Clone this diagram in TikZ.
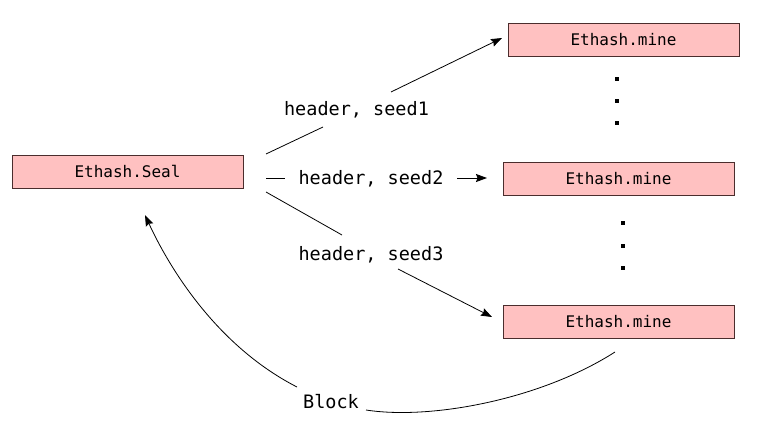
\documentclass[tikz,border=0pt]{standalone}
\usepackage{fontspec}
\setmonofont{DejaVu Sans Mono}
\usetikzlibrary{arrows.meta}
\definecolor{boxfill}{RGB}{255,193,193}
\definecolor{boxline}{RGB}{75,45,45}
\begin{document}
\begin{tikzpicture}[x=1pt,y=-1pt,
  box/.style={draw=boxline, fill=boxfill, line width=0.9pt, minimum width=231pt,
    minimum height=33pt, inner sep=0pt, font=\ttfamily\fontsize{16}{16}\selectfont},
  lbl/.style={inner sep=0pt, anchor=base, font=\ttfamily\fontsize{18.5}{18.5}\selectfont},
  conn/.style={line width=0.8pt},
  arr/.style={conn, -{Stealth[length=11pt,width=8pt,inset=1.5pt]}},
  dotmark/.style={fill=black}]
\useasboundingbox (0,0) rectangle (766,444);

% boxes
\node[box] (seal)  at (127.5,171.5) {Ethash.Seal};
\node[box] (mine1) at (623.5,39.5)  {Ethash.mine};
\node[box] (mine2) at (618.5,178.5) {Ethash.mine};
\node[box] (mine3) at (618.5,322)   {Ethash.mine};

% labels
\node[lbl] (l1) at (356.5,115.7) {header, seed1};
\node[lbl] (l2) at (371,184.5)   {header, seed2};
\node[lbl] (l3) at (371,260.7)   {header, seed3};
\node[lbl] (blk) at (331,408)    {Block};

% connector end points
\coordinate (s1a) at (266,154); \coordinate (s1b) at (323,127);
\coordinate (s1c) at (391,92);  \coordinate (s1t) at (502,38);
\coordinate (s2a) at (266,178); \coordinate (s2b) at (285,178);
\coordinate (s2c) at (457,178); \coordinate (s2t) at (487,178);
\coordinate (s3a) at (266,192); \coordinate (s3b) at (342,235);
\coordinate (s3c) at (398,269); \coordinate (s3t) at (492,317);
\coordinate (ba) at (615,352);  \coordinate (bb) at (366,410);
\coordinate (bc) at (297,387);  \coordinate (bt) at (145,215);

% connectors
\draw[conn] (s1a) -- (s1b);
\draw[arr]  (s1c) -- (s1t);
\draw[conn] (s2a) -- (s2b);
\draw[arr]  (s2c) -- (s2t);
\draw[conn] (s3a) -- (s3b);
\draw[arr]  (s3c) -- (s3t);
\draw[conn] (ba) .. controls (540,400) and (430,420) .. (bb);
\draw[arr]  (bc) .. controls (215,345) and (168,265) .. (bt);

% dots
\foreach \y in {79,101,123}
  \fill[dotmark] (615.3,\y-1.7) rectangle ++(3.5,3.5);
\foreach \y in {223,246,268}
  \fill[dotmark] (621.3,\y-1.7) rectangle ++(3.5,3.5);
\end{tikzpicture}
\end{document}
